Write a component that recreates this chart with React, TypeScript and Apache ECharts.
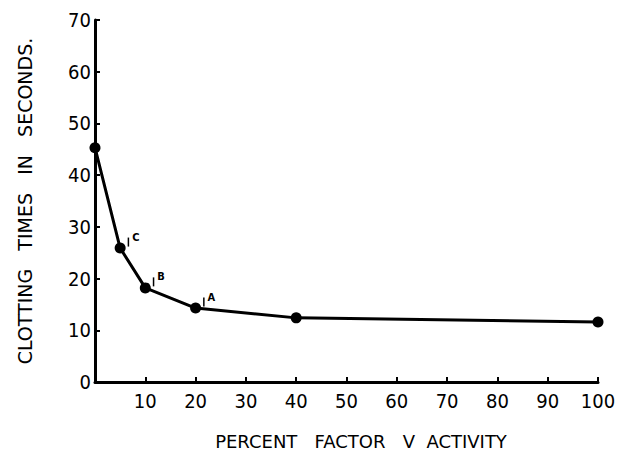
import React, { useEffect, useRef } from "react";
import * as echarts from "echarts";

const xValues = [0, 5, 10, 20, 40, 100];
const yValues = [45.3, 25.9, 18.2, 14.3, 12.4, 11.6];
const pointTags = ["", "C", "B", "A", "", ""];
const yTitle = "CLOTTING   TIMES   IN   SECONDS.";
const xTitle = "PERCENT   FACTOR   Ⅴ  ACTIVITY";

const FONT = "'DejaVu Sans Condensed', 'Liberation Sans Narrow', 'DejaVu Sans', sans-serif";
const FONT_WIDE = "'DejaVu Sans', sans-serif";

export default function App() {
  const ref = useRef<HTMLDivElement>(null);
  useEffect(() => {
    if (!ref.current) return;
    const chart = echarts.init(ref.current, null, { renderer: "svg" });
    const data = xValues.map((x, i) => ({
      value: [x, yValues[i]],
      label: pointTags[i]
        ? {
            show: true,
            position: "right",
            distance: 2,
            offset: [0, -6],
            formatter: "{bar|}{l|" + pointTags[i] + "}",
            rich: {
              bar: { width: 1.5, height: 9, backgroundColor: "#000" },
              l: { fontSize: 11, fontWeight: "bold", fontFamily: FONT, color: "#000", padding: [0, 0, 10, 3] },
            },
          }
        : { show: false },
    }));
    chart.setOption({
      animation: false,
      backgroundColor: "#fff",
      grid: { left: 95, right: 24, top: 20, bottom: 71 },
      xAxis: {
        type: "value",
        min: 0,
        max: 100,
        interval: 10,
        splitLine: { show: false },
        axisLine: { show: true, lineStyle: { color: "#000", width: 3 } },
        axisTick: { show: true, inside: true, length: 5, lineStyle: { color: "#000", width: 2 } },
        axisLabel: {
          color: "#000",
          fontSize: 20,
          fontFamily: FONT,
          margin: 9,
          formatter: (v: number) => (v === 0 ? "" : String(v)),
        },
      },
      yAxis: {
        type: "value",
        min: 0,
        max: 70,
        interval: 10,
        splitLine: { show: false },
        axisLine: { show: true, lineStyle: { color: "#000", width: 3 } },
        axisTick: { show: true, inside: true, length: 5, lineStyle: { color: "#000", width: 2 } },
        axisLabel: { color: "#000", fontSize: 20, fontFamily: FONT, margin: 4 },
      },
      graphic: [
        {
          type: "text",
          x: 25,
          y: 201,
          rotation: Math.PI / 2,
          style: {
            text: yTitle,
            fontSize: 19,
            fontFamily: FONT_WIDE,
            fill: "#000",
            align: "center",
            verticalAlign: "middle",
          },
        },
        {
          type: "text",
          x: 361,
          y: 441,
          style: {
            text: xTitle,
            fontSize: 18,
            fontFamily: FONT_WIDE,
            fill: "#000",
            align: "center",
            verticalAlign: "middle",
          },
        },
      ],
      series: [
        {
          type: "line",
          data,
          symbol: "circle",
          symbolSize: 11,
          itemStyle: { color: "#000" },
          lineStyle: { color: "#000", width: 3 },
        },
      ],
    });
    return () => chart.dispose();
  }, []);
  return <div ref={ref} style={{ width: 622, height: 453, position: "absolute", left: 0, top: 0 }} />;
}
